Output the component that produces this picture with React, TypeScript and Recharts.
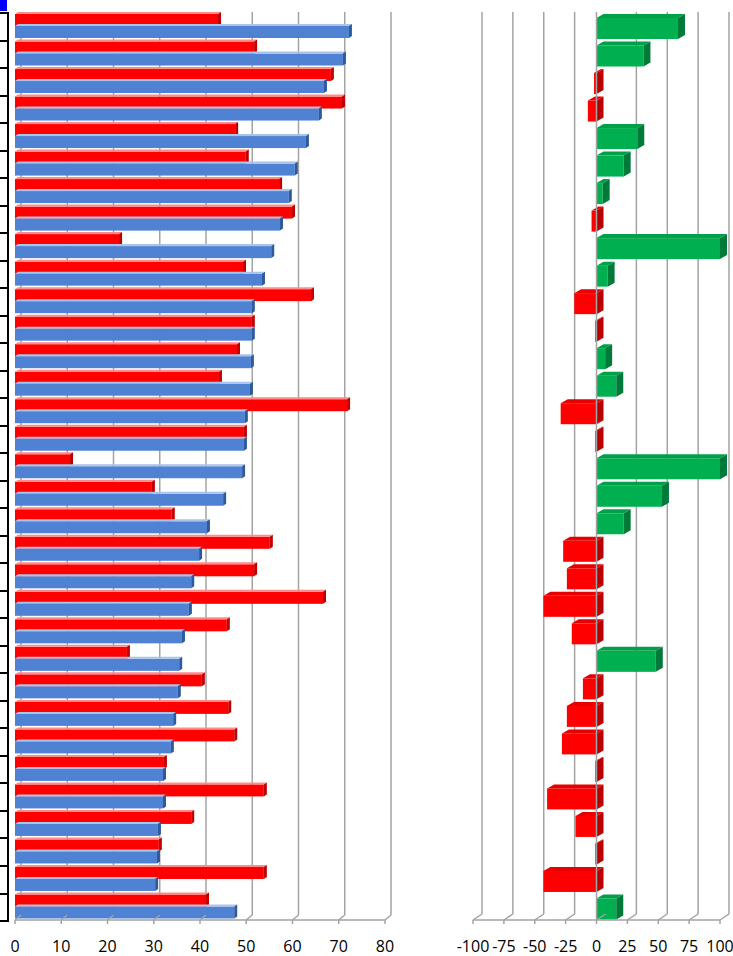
import React from "react";
import {
  Bar,
  BarChart,
  CartesianGrid,
  ReferenceLine,
  XAxis,
  YAxis,
} from "recharts";

// one entry per row, top to bottom
const rowIds = [
  "1", "2", "3", "4", "5", "6", "7", "8", "9", "10", "11",
  "12", "13", "14", "15", "16", "17", "18", "19", "20", "21", "22",
  "23", "24", "25", "26", "27", "28", "29", "30", "31", "32", "33",
];

const redValues = [
  43.9, 51.7, 68.3, 70.7, 47.6, 49.9, 57.1, 59.9, 22.5, 49.3, 64.0,
  51.2, 48.0, 44.1, 71.8, 49.5, 11.9, 29.6, 33.9, 55.1, 51.7, 66.6,
  45.8, 24.2, 40.4, 46.1, 47.4, 32.2, 53.8, 38.1, 31.1, 53.8, 41.3,
];

const blueValues = [
  72.2, 70.9, 66.8, 65.7, 62.9, 60.5, 59.2, 57.3, 55.4, 53.4, 51.2,
  51.2, 51.0, 50.8, 49.7, 49.5, 49.1, 45.0, 41.5, 39.8, 38.1, 37.6,
  36.1, 35.5, 35.2, 34.2, 33.7, 32.0, 32.0, 30.9, 30.7, 30.3, 47.4,
];

// right panel, capped at 100
const changeValues = [
  66, 38, -2, -7, 33, 22, 5, -4, 100, 9, -18,
  -1, 7, 16, -29, -1, 100, 53, 22, -27, -24, -43,
  -20, 48, -11, -24, -28, -1, -40, -17, -1, -43, 16,
];

const leftTicks = [0, 10, 20, 30, 40, 50, 60, 70, 80];
const rightTicks = [-100, -75, -50, -25, 0, 25, 50, 75, 100];

const leftData = rowIds.map((id, i) => ({
  id,
  red: redValues[i],
  blue: blueValues[i],
}));
const rightData = rowIds.map((id, i) => ({ id, change: changeValues[i] }));

const GRID = "#a3a3a3";
const FONT = "'Open Sans', sans-serif";

function Block(props: any) {
  const { x, y, width, height, face, top, side, dx, dy, shift } = props;
  if (x == null || y == null) return null;
  const left = Math.min(x, x + width);
  const w = Math.abs(width);
  const right = left + w;
  const y0 = y + shift;
  return (
    <g>
      <rect x={left} y={y0} width={w} height={height} fill={face} />
      <polygon
        points={`${left},${y0} ${left + dx},${y0 - dy} ${right + dx},${y0 - dy} ${right},${y0}`}
        fill={top}
      />
      <polygon
        points={`${right},${y0} ${right + dx},${y0 - dy} ${right + dx},${y0 + height - dy} ${right},${y0 + height}`}
        fill={side}
      />
    </g>
  );
}

function FloorTick(props: any) {
  const { x, y, payload, dx, dy } = props;
  return (
    <g>
      <line x1={x} y1={y} x2={x} y2={y + 4} stroke={GRID} strokeWidth={1.5} />
      <line x1={x} y1={y} x2={x + dx} y2={y - dy} stroke={GRID} strokeWidth={1.5} />
      <text
        x={x}
        y={y + 32}
        textAnchor="middle"
        fontFamily={FONT}
        fontSize={16}
        fill="#000"
      >
        {payload.value}
      </text>
    </g>
  );
}

// back-wall grid lines sit a few pixels right of the front axis ticks
function gridAt(ticks: number[], domain: [number, number], shift: number) {
  return ({ xAxis, offset }: any) => {
    const s = xAxis && xAxis.scale;
    return ticks.map((t) => {
      if (typeof s === "function") return s(t) + shift;
      const frac = (t - domain[0]) / (domain[1] - domain[0]);
      return offset.left + frac * offset.width + shift;
    });
  };
}

function LeftChart() {
  return (
    <BarChart
      width={400}
      height={956}
      layout="vertical"
      data={leftData}
      margin={{ top: 12, right: 15, left: 15, bottom: 0 }}
      barCategoryGap={2}
      barGap={0}
    >
      <CartesianGrid
        horizontal={false}
        stroke={GRID}
        strokeWidth={1.5}
        x={15}
        y={12}
        width={370}
        height={903}
        verticalCoordinatesGenerator={gridAt(leftTicks, [0, 80], 6)}
      />
      <XAxis
        type="number"
        domain={[0, 80]}
        ticks={leftTicks}
        interval={0}
        height={36}
        tickSize={0}
        tickMargin={0}
        tickLine={false}
        axisLine={{ stroke: GRID, strokeWidth: 1.5 }}
        tick={<FloorTick dx={6} dy={5} />}
      />
      <YAxis
        type="category"
        dataKey="id"
        width={0}
        tick={false}
        tickLine={false}
        axisLine={{ stroke: GRID, strokeWidth: 2 }}
      />
      <Bar
        dataKey="red"
        isAnimationActive={false}
        shape={(p: any) => (
          <Block {...p} face="#ff0000" top="#ff8a8a" side="#c00000" dx={3} dy={2} shift={0} />
        )}
      />
      <Bar
        dataKey="blue"
        isAnimationActive={false}
        shape={(p: any) => (
          <Block {...p} face="#4f82d2" top="#a9c3ea" side="#2d5a9c" dx={3} dy={2} shift={0} />
        )}
      />
    </BarChart>
  );
}

function RightChart() {
  return (
    <BarChart
      width={293}
      height={956}
      layout="vertical"
      data={rightData}
      margin={{ top: 12, right: 13, left: 33, bottom: 0 }}
      barSize={21}
    >
      <CartesianGrid
        horizontal={false}
        stroke={GRID}
        strokeWidth={1.5}
        x={33}
        y={12}
        width={247}
        height={902}
        verticalCoordinatesGenerator={gridAt(
          rightTicks.filter((t) => t !== 0),
          [-100, 100],
          9
        )}
      />
      <XAxis
        type="number"
        domain={[-100, 100]}
        ticks={rightTicks}
        interval={0}
        height={36}
        tickSize={0}
        tickMargin={0}
        tickLine={false}
        axisLine={{ stroke: GRID, strokeWidth: 1.5 }}
        tick={<FloorTick dx={9} dy={6} />}
      />
      <YAxis
        type="category"
        dataKey="id"
        width={0}
        tick={false}
        tickLine={false}
        axisLine={{ stroke: GRID, strokeWidth: 2 }}
      />
      <ReferenceLine x={0} stroke={GRID} strokeWidth={1.5} />
      <Bar
        dataKey="change"
        isAnimationActive={false}
        shape={(p: any) =>
          p.payload && p.payload.change < 0 ? (
            <Block {...p} face="#ff0000" top="#e80000" side="#b80000" dx={7} dy={4} shift={3} />
          ) : (
            <Block {...p} face="#00b050" top="#00a048" side="#007a38" dx={7} dy={4} shift={3} />
          )
        }
      />
    </BarChart>
  );
}

export default function App() {
  return (
    <div
      style={{
        position: "absolute",
        left: 0,
        top: 0,
        width: 733,
        height: 956,
        background: "#fff",
        overflow: "hidden",
      }}
    >
      {/* clipped table edge on the far left */}
      <div
        style={{
          position: "absolute",
          left: 0,
          top: 0,
          width: 7,
          height: 11,
          background: "#0000ff",
        }}
      />
      <div
        style={{
          position: "absolute",
          left: 0,
          top: 12,
          width: 7,
          height: 908,
          borderRight: "2px solid #000",
          borderBottom: "2px solid #000",
          display: "flex",
          flexDirection: "column",
        }}
      >
        {rowIds.map((id) => (
          <div key={id} style={{ flex: 1, borderTop: "2px solid #000" }} />
        ))}
      </div>
      <div style={{ position: "absolute", left: 0, top: 0 }}>
        <LeftChart />
      </div>
      <div style={{ position: "absolute", left: 440, top: 0 }}>
        <RightChart />
      </div>
    </div>
  );
}
